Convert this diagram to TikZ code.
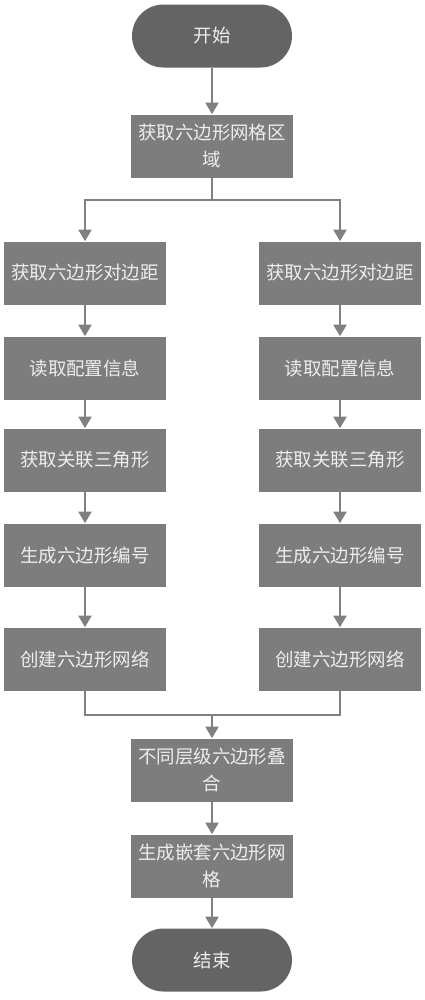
\documentclass[tikz,border=0pt]{standalone}
\usepackage{fontspec}
\setmainfont{Noto Sans CJK SC}
\usetikzlibrary{arrows.meta}
\definecolor{boxgray}{RGB}{125,125,125}
\definecolor{termgray}{RGB}{100,100,100}
\definecolor{linegray}{RGB}{128,128,128}
\definecolor{txtgray}{RGB}{238,238,238}

\begin{document}
\begin{tikzpicture}[
  stepbox/.style={rectangle, fill=boxgray, minimum width=3.2cm, minimum height=1.26cm, text width=3.0cm, align=center, text=txtgray, font=\fontsize{10.5}{15}\selectfont},
  termbox/.style={rectangle, rounded corners=0.63cm, fill=termgray, minimum width=3.2cm, minimum height=1.26cm, text=txtgray, font=\fontsize{10.5}{15}\selectfont},
  link/.style={draw=linegray, line width=0.7pt},
  flow/.style={link, -{Triangle[width=7.5pt,length=6.5pt]}, color=linegray}
]
\useasboundingbox (0,0) rectangle (8.5,-20);

\node[termbox] at (4.24,-0.72) (start) {开始};
\node[stepbox] at (4.24,-2.92) (area) {获取六边形网格区\\域};

\node[stepbox] at (1.70,-5.46) (l1) {获取六边形对边距};
\node[stepbox] at (1.70,-7.36) (l2) {读取配置信息};
\node[stepbox] at (1.70,-9.20) (l3) {获取关联三角形};
\node[stepbox] at (1.70,-11.10) (l4) {生成六边形编号};
\node[stepbox] at (1.70,-13.18) (l5) {创建六边形网络};

\node[stepbox] at (6.80,-5.46) (r1) {获取六边形对边距};
\node[stepbox] at (6.80,-7.36) (r2) {读取配置信息};
\node[stepbox] at (6.80,-9.20) (r3) {获取关联三角形};
\node[stepbox] at (6.80,-11.10) (r4) {生成六边形编号};
\node[stepbox] at (6.80,-13.18) (r5) {创建六边形网络};

\node[stepbox] at (4.24,-15.40) (over) {不同层级六边形叠\\合};
\node[stepbox] at (4.24,-17.32) (nest) {生成嵌套六边形网\\格};
\node[termbox] at (4.24,-19.20) (end) {结束};

\coordinate (split) at (4.24,-4.00);
\coordinate (join) at (4.24,-14.30);

\path[flow] (start) to (area);
\path[link] (area) to (split);
\path[flow] (split) -| (l1);
\path[flow] (split) -| (r1);

\path[flow] (l1) to (l2);
\path[flow] (l2) to (l3);
\path[flow] (l3) to (l4);
\path[flow] (l4) to (l5);

\path[flow] (r1) to (r2);
\path[flow] (r2) to (r3);
\path[flow] (r3) to (r4);
\path[flow] (r4) to (r5);

\path[link] (l5) |- (join);
\path[link] (r5) |- (join);
\path[flow] (join) to (over);
\path[flow] (over) to (nest);
\path[flow] (nest) to (end);

\end{tikzpicture}
\end{document}
